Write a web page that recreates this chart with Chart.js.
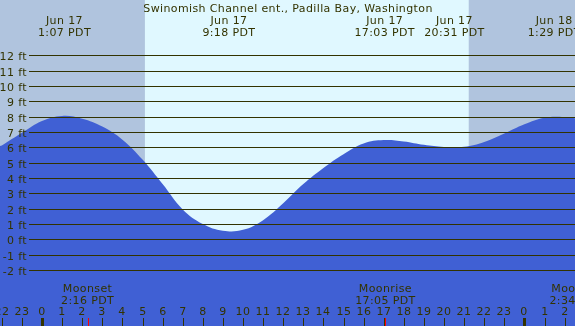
<!DOCTYPE html>
<html>
<head>
<meta charset="utf-8">
<script src="https://cdn.jsdelivr.net/npm/chart.js@4"></script>
<style>
  html, body { margin: 0; padding: 0; background: #fff; }
  #wrap { width: 575px; height: 326px; }
</style>
</head>
<body>
<div id="wrap"><canvas id="tide" width="575" height="326"></canvas></div>
<script>
// hours since Jun 17 00:00 PDT, tide height in ft
const tideHours = [-2.09, -2, -1, 0, 1, 2, 3, 4, 5, 6, 7, 8, 9, 10, 11, 12, 13, 14, 15, 16, 17, 18, 19, 20, 21, 22, 23, 24, 25, 26, 26.52];
const tideFeet  = [6.08, 6.12, 6.95, 7.72, 8.05, 7.87, 7.35, 6.5, 5.2, 3.6, 1.95, 1.0, 0.56, 0.62, 1.25, 2.35, 3.6, 4.65, 5.55, 6.25, 6.47, 6.38, 6.16, 6.02, 6.03, 6.35, 6.9, 7.5, 7.93, 7.98, 7.9];

// high / low tide labels along the top
const tideEventHours = [1.117, 9.3, 17.05, 20.517, 25.483];
const tideEventDates = ['Jun 17', 'Jun 17', 'Jun 17', 'Jun 17', 'Jun 18'];
const tideEventTimes = ['1:07 PDT', '9:18 PDT', '17:03 PDT', '20:31 PDT', '1:29 PDT'];

// moon events along the bottom
const moonHours = [2.267, 17.083, 26.567];
const moonNames = ['Moonset', 'Moonrise', 'Moonset'];
const moonTimes = ['2:16 PDT', '17:05 PDT', '2:34 PDT'];

// daylight
const sunriseHour = 5.12;
const sunsetHour = 21.23;

const feetTicks = [12, 11, 10, 9, 8, 7, 6, 5, 4, 3, 2, 1, 0, -1, -2];
const hourTicks = [-2, -1, 0, 1, 2, 3, 4, 5, 6, 7, 8, 9, 10, 11, 12, 13, 14, 15, 16, 17, 18, 19, 20, 21, 22, 23, 24, 25, 26];

const title = 'Swinomish Channel ent., Padilla Bay, Washington';

const textColor = '#333300';
const font = '11px "DejaVu Sans"';

const backdrop = {
    id: 'backdrop',
    beforeDatasetsDraw(chart) {
        const { ctx, chartArea: a, scales: { x } } = chart;
        const sr = x.getPixelForValue(sunriseHour);
        const ss = x.getPixelForValue(sunsetHour);
        ctx.save();
        ctx.fillStyle = '#b0c4de';
        ctx.fillRect(a.left, a.top, a.right - a.left, a.bottom - a.top);
        ctx.fillStyle = '#e0f8ff';
        ctx.fillRect(sr, a.top, ss - sr, a.bottom - a.top);
        ctx.restore();
    }
};

const overlay = {
    id: 'overlay',
    afterDatasetsDraw(chart) {
        const { ctx, chartArea: a, scales: { x, y } } = chart;
        ctx.save();
        ctx.font = font;
        ctx.letterSpacing = '0.38px';
        ctx.fillStyle = textColor;
        ctx.strokeStyle = textColor;
        ctx.lineWidth = 1;
        ctx.textBaseline = 'alphabetic';

        // feet grid + labels
        ctx.textAlign = 'right';
        feetTicks.forEach(f => {
            const py = Math.round(y.getPixelForValue(f)) + 0.5;
            ctx.beginPath();
            ctx.moveTo(29, py);
            ctx.lineTo(a.right, py);
            ctx.stroke();
            ctx.fillText(f + ' ft', 27, py + 4.5);
        });

        // title and tide events
        ctx.textAlign = 'center';
        ctx.fillText(title, 288, 12);
        tideEventHours.forEach((h, i) => {
            const px = x.getPixelForValue(h);
            ctx.fillText(tideEventDates[i], px, 24);
            ctx.fillText(tideEventTimes[i], px, 36);
        });

        // moon events
        moonHours.forEach((h, i) => {
            const px = x.getPixelForValue(h);
            ctx.fillText(moonNames[i], px, 292);
            ctx.fillText(moonTimes[i], px, 304);
        });

        // hour ticks
        hourTicks.forEach(h => {
            const px = Math.round(x.getPixelForValue(h));
            const label = String(((h % 24) + 24) % 24);
            ctx.fillText(label, px, 315);
            if (h % 24 === 0) {
                ctx.fillRect(px - 1, 318, 3, 8);
            } else {
                ctx.fillRect(px, 318, 1, 8);
            }
        });
        ctx.fillStyle = '#ff0000';
        moonHours.forEach(h => {
            const px = Math.round(x.getPixelForValue(h));
            ctx.fillRect(px, 318, 1, 8);
        });
        ctx.restore();
    }
};

new Chart(document.getElementById('tide'), {
    type: 'line',
    data: {
        datasets: [{
            data: tideHours.map((h, i) => ({ x: h, y: tideFeet[i] })),
            fill: 'start',
            backgroundColor: '#4060d4',
            borderColor: 'rgba(0,0,0,0)',
            borderWidth: 0,
            pointRadius: 0,
            tension: 0.4
        }]
    },
    options: {
        responsive: false,
        animation: false,
        devicePixelRatio: 1,
        layout: { padding: 0 },
        plugins: { legend: { display: false }, tooltip: { enabled: false } },
        scales: {
            x: { type: 'linear', min: -2.0896, max: 26.517, display: false },
            y: { min: -5.656, max: 15.61, display: false }
        }
    },
    plugins: [backdrop, overlay]
});
</script>
</body>
</html>
